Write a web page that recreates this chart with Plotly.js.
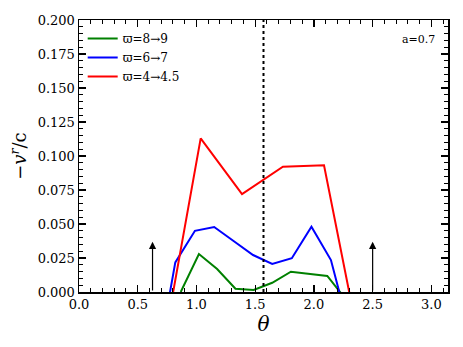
<!DOCTYPE html>
<html>
<head>
<meta charset="utf-8">
<script src="https://cdn.plot.ly/plotly-3.0.1.min.js"></script>
<style>
  html, body { margin: 0; padding: 0; background: #fff; }
  #chart { width: 463px; height: 347px; }
</style>
</head>
<body>
<div id="chart"></div>
<script>
// Données (theta en radians, -v^r/c)
var thetaGreen = [0.866, 1.021, 1.176, 1.332, 1.487, 1.645, 1.804, 1.96, 2.114, 2.27];
var velGreen   = [0.0, 0.0279, 0.0169, 0.0024, 0.0015, 0.0068, 0.0149, 0.0134, 0.0118, -0.0052];

var thetaBlue = [0.66, 0.82, 0.987, 1.151, 1.316, 1.482, 1.645, 1.812, 1.979, 2.145, 2.31];
var velBlue   = [-0.0557, 0.0218, 0.045, 0.0478, 0.0375, 0.0272, 0.0206, 0.0248, 0.048, 0.0235, -0.031];

var thetaRed = [0.698, 1.036, 1.388, 1.736, 2.086, 2.443];
var velRed   = [-0.050, 0.113, 0.072, 0.0921, 0.0932, -0.062];

var seriesNames = ["\u03D6=8\u21929", "\u03D6=6\u21927", "\u03D6=4\u21924.5"];
var seriesColors = ["#008000", "#0000ff", "#ff0000"];

// Flèches verticales et ligne theta = pi/2
var arrowTheta = [0.626, 2.5];
var arrowTop = 0.037;
var thetaMid = Math.PI / 2;

var serif = "'DejaVu Serif', 'Liberation Serif', serif";

function makeTrace(x, y, i) {
  return {
    x: x, y: y, type: "scatter", mode: "lines",
    name: seriesNames[i],
    line: { color: seriesColors[i], width: 2 }
  };
}

var data = [
  makeTrace(thetaGreen, velGreen, 0),
  makeTrace(thetaBlue, velBlue, 1),
  makeTrace(thetaRed, velRed, 2)
];

var annotations = arrowTheta.map(function (t) {
  return {
    x: t, y: arrowTop, xref: "x", yref: "y",
    ax: t, ay: 0, axref: "x", ayref: "y",
    showarrow: true, arrowhead: 2, arrowsize: 1.2, arrowwidth: 1.2,
    arrowcolor: "#000", text: ""
  };
});
annotations.push({
  x: 0.97, y: 0.93, xref: "paper", yref: "paper",
  xanchor: "right", yanchor: "middle", showarrow: false,
  text: "a=0.7", font: { family: serif, size: 11, color: "#000" }
});

function axisBase() {
  return {
    showline: true, linecolor: "#000", linewidth: 1.5, mirror: "ticks",
    ticks: "inside", ticklen: 7, tickwidth: 1.2, tickcolor: "#000",
    showgrid: false, zeroline: false,
    tickfont: { family: serif, size: 13, color: "#000" }
  };
}

var xaxis = axisBase();
xaxis.range = [0, Math.PI];
xaxis.dtick = 0.5;
xaxis.tick0 = 0;
xaxis.tickformat = ".1f";
xaxis.minor = { dtick: 0.1, ticks: "inside", ticklen: 4, tickcolor: "#000", tickwidth: 1 };
xaxis.title = { text: "<i>\u03B8</i>", font: { family: serif, size: 20, color: "#000" }, standoff: 2 };

var yaxis = axisBase();
yaxis.range = [0, 0.2];
yaxis.dtick = 0.025;
yaxis.tick0 = 0;
yaxis.tickformat = ".3f";
yaxis.minor = { dtick: 0.005, ticks: "inside", ticklen: 4, tickcolor: "#000", tickwidth: 1 };
yaxis.title = { text: "\u2212<i>v</i><sup><i>r</i></sup>/c", font: { family: serif, size: 18, color: "#000" }, standoff: 6 };

var layout = {
  width: 463, height: 347,
  margin: { l: 79, r: 15, t: 20, b: 55 },
  paper_bgcolor: "#fff", plot_bgcolor: "#fff",
  xaxis: xaxis, yaxis: yaxis,
  showlegend: true,
  legend: {
    x: 0.01, y: 0.985, xanchor: "left", yanchor: "top",
    bgcolor: "rgba(0,0,0,0)", borderwidth: 0,
    font: { family: serif, size: 12, color: "#000" },
    tracegroupgap: 0
  },
  shapes: [{
    type: "line", xref: "x", yref: "paper",
    x0: thetaMid, x1: thetaMid, y0: 0, y1: 1,
    line: { color: "#000", width: 2, dash: "dot" }
  }],
  annotations: annotations
};

Plotly.newPlot("chart", data, layout, { displayModeBar: false, staticPlot: true });
</script>
</body>
</html>
